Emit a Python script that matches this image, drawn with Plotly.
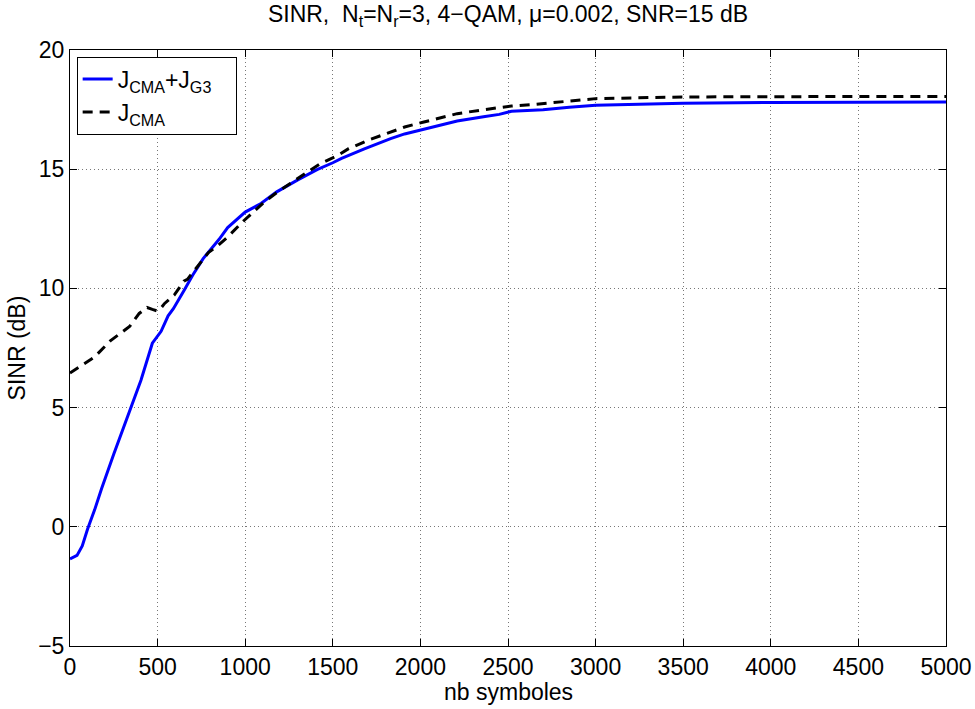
import plotly.graph_objects as go

# Blue: J_CMA + J_G3
x_g3 = [0, 40, 70, 100, 140, 180, 250, 340, 405, 470, 520, 560, 590, 650, 700, 760, 850, 900,
        1000, 1090, 1180, 1300, 1410, 1500, 1550, 1680, 1720, 1830, 1910, 2010, 2100, 2210,
        2360, 2450, 2520, 2700, 2850, 3000, 3250, 3500, 4000, 4500, 5000]
y_g3 = [-1.35, -1.2, -0.8, -0.1, 0.7, 1.6, 3.05, 4.8, 6.15, 7.7, 8.2, 8.85, 9.15, 9.9, 10.55,
        11.25, 12.05, 12.55, 13.2, 13.56, 14.05, 14.55, 14.98, 15.27, 15.45, 15.85, 15.97, 16.28,
        16.48, 16.66, 16.82, 17.02, 17.2, 17.3, 17.43, 17.49, 17.6, 17.68, 17.72, 17.77, 17.8,
        17.8, 17.82]

# Dashed: J_CMA
x_cma = [0, 80, 140, 230, 340, 395, 440, 470, 500, 520, 540, 595, 650, 670, 750, 790, 845, 900,
         995, 1110, 1185, 1300, 1430, 1530, 1590, 1700, 1910, 2020, 2210, 2365, 2520, 2650,
         3000, 3500, 4000, 4500, 5000]
y_cma = [6.45, 6.82, 7.12, 7.8, 8.4, 8.95, 9.2, 9.12, 9.05, 9.18, 9.37, 9.72, 10.3, 10.38, 11.1,
         11.5, 11.8, 12.16, 12.86, 13.63, 14.05, 14.6, 15.24, 15.58, 15.86, 16.21, 16.77, 16.98,
         17.33, 17.5, 17.65, 17.72, 17.96, 18.03, 18.05, 18.05, 18.05]

x_ticks = list(range(0, 5001, 500))
y_ticks = [-5, 0, 5, 10, 15, 20]

FONT = "Liberation Sans, Arial, Helvetica, sans-serif"
FS = 23
PAD = "\u00a0\u00a0\u00a0"

fig = go.Figure()
fig.add_trace(go.Scatter(x=x_g3, y=y_g3, mode="lines",
                         name="J<sub>CMA</sub>+J<sub>G3</sub>" + PAD,
                         line=dict(color="rgb(0,0,255)", width=3)))
fig.add_trace(go.Scatter(x=x_cma, y=y_cma, mode="lines",
                         name="J<sub>CMA</sub>",
                         line=dict(color="black", width=3, dash="10px,7px")))

axis_common = dict(showline=True, linecolor="black", linewidth=1, mirror="ticks",
                   ticks="inside", ticklen=7, tickcolor="black", tickwidth=1,
                   showgrid=True, gridcolor="#777777", gridwidth=1, griddash="1px,3px",
                   zeroline=False, automargin=False,
                   tickfont=dict(family=FONT, size=FS, color="black"))

fig.update_xaxes(range=[0, 5000], tickvals=x_ticks, **axis_common)
fig.update_yaxes(range=[-5, 20], tickvals=y_ticks, **axis_common)

fig.update_layout(
    width=975, height=709,
    margin=dict(l=70, r=29, t=50, b=63),
    paper_bgcolor="white", plot_bgcolor="white",
    font=dict(family=FONT, size=FS, color="black"),
    title=dict(text="SINR,  N<sub>t</sub>=N<sub>r</sub>=3, 4\u2212QAM, \u03bc=0.002, SNR=15 dB",
               x=0.5, xref="paper", xanchor="center",
               y=1 - 14 / 709, yref="container", yanchor="middle",
               font=dict(family=FONT, size=FS, color="black")),
    legend=dict(x=0.0076, y=0.989, xanchor="left", yanchor="top",
                bgcolor="white", bordercolor="black", borderwidth=1,
                font=dict(family=FONT, size=FS, color="black")),
    showlegend=True,
    annotations=[
        dict(text="nb symboles", xref="paper", yref="paper", x=0.5, y=-0.052,
             xanchor="center", yanchor="top", showarrow=False,
             font=dict(family=FONT, size=FS, color="black")),
        dict(text="SINR (dB)", xref="paper", yref="paper", x=-0.06, y=0.5,
             xanchor="center", yanchor="middle", textangle=-90, showarrow=False,
             font=dict(family=FONT, size=FS, color="black")),
    ],
)

fig.write_html(
    "out.html",
    config={"displayModeBar": False},
    post_script="document.documentElement.style.margin='0px';"
                "document.documentElement.style.overflow='hidden';"
                "document.body.style.margin='0px';"
                "document.body.style.overflow='hidden';",
)
